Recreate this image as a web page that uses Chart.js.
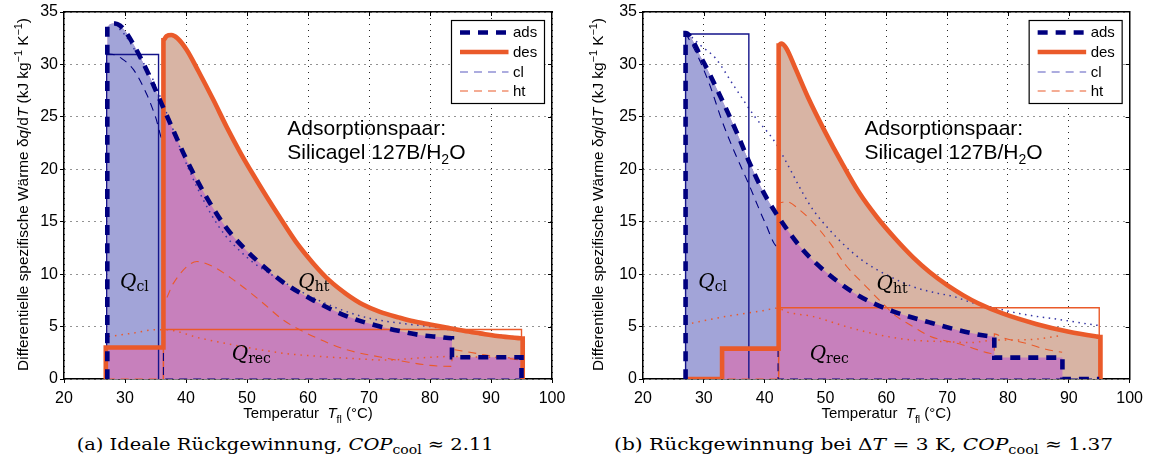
<!DOCTYPE html>
<html><head><meta charset="utf-8">
<script src="https://cdn.jsdelivr.net/npm/chart.js@4.4.0/dist/chart.umd.min.js"></script>
<style>
html,body{margin:0;padding:0;background:#fff;width:1149px;height:464px;overflow:hidden;position:relative;}
#wrapA{position:absolute;left:0;top:0;width:575px;height:425px;}
#wrapB{position:absolute;left:575px;top:0;width:574px;height:425px;}
.cap{position:absolute;top:434px;left:0;font-family:'DejaVu Serif','Liberation Serif',serif;font-size:17px;line-height:20px;white-space:nowrap;transform-origin:50% 50%;color:#000;}
.cap sub{font-size:0.72em;vertical-align:-0.32em;line-height:0;}
</style></head><body>
<div id="wrapA"><canvas id="cA" width="575" height="425"></canvas></div>
<div id="wrapB"><canvas id="cB" width="574" height="425"></canvas></div>
<div class="cap" id="capA">(a) Ideale Rückgewinnung, <i>COP</i><sub>cool</sub> ≈ 2.11</div>
<div class="cap" id="capB">(b) Rückgewinnung bei Δ<i>T</i> = 3 K, <i>COP</i><sub>cool</sub> ≈ 1.37</div>
<script>
// ---------------- data ----------------
const xTickLabels = ['20','30','40','50','60','70','80','90','100'];
const yTickLabels = ['0','5','10','15','20','25','30','35'];
const legendLabels = ['ads','des','cl','ht'];

// panel (a) : ideale Rückgewinnung
const adsA = [[27.1,0],[27.1,33.6],[27.6,33.85],[28.4,33.9],[29.2,33.7],[30,33.2],[31.4,31.9],[33.6,29.4],[35.5,26.9],[37.1,24.8],[40.1,20.9],[43.4,17.3],[46.5,14.5],[50,12.2],[53.2,10.5],[56,9.2],[60.9,7.5],[66.3,6.0],[71.8,5.0],[75.6,4.5],[78.3,4.2],[81.6,4.0],[83.6,3.88],[83.6,2.07],[95,2.07],[95,0]];
const desA = [[26.85,0],[26.85,3],[36.3,3],[36.3,32.3],[36.8,32.7],[37.6,32.8],[38.6,32.5],[40.1,31.4],[42,29.4],[44.5,26.6],[46.7,24.0],[48.9,21.6],[51,19.5],[53.2,17.4],[55.5,15.3],[58,13.1],[60.9,11.0],[63.5,9.4],[66.3,8.1],[69,7.1],[71.8,6.4],[75,5.85],[77.3,5.5],[80,5.2],[82.7,4.9],[85.5,4.6],[88.2,4.35],[91,4.1],[94.5,3.9],[95.2,3.85],[95.2,0]];
const clA = [[27,31],[28.1,30.95],[29.6,30.5],[31.4,29.5],[33.6,27.1],[35,25.0],[36.3,22.7],[36.3,0],[95,0]];
const htA = [[27,0],[36.3,0],[36.3,7.4],[37.9,9.1],[40.1,10.7],[41.8,11.2],[44.5,10.7],[47.8,9.45],[52.1,7.5],[56,5.6],[60,4.3],[66.3,2.8],[71.8,2.1],[76.5,1.6],[80,1.3],[83.6,1.2],[83.6,2.8],[86,2.6],[89,2.3],[93,1.95],[95,1.8]];
const rectClA = [[27,0],[27,30.95],[35.5,30.95],[35.5,0]];
const rectHtA = [[36.3,0],[36.3,4.72],[95,4.72],[95,0]];
const dotClA = [[28.4,33.8],[30,32.8],[32,31],[34.3,28.9],[36.8,25.4],[40.6,19.8],[45.3,14.6],[50,11.6],[55,9.6],[60,8.0],[65,6.7],[70,5.8],[75.4,5.3],[80,5.0],[85.5,4.5],[91,4.2],[95,3.95]];
const dotHtA = [[27.3,4.05],[31,4.35],[35.2,4.7],[36.6,4.7],[42.3,3.9],[47.8,3.25],[56,2.45],[62,2.15],[66,2.0],[73.4,1.8],[75.4,1.88],[80,2.07],[83.6,2.15],[88,2.1],[95,2.0]];

// panel (b) : Rückgewinnung bei dT = 3 K
const adsB = [[27,0],[27,33.0],[29.7,30.5],[33,26.6],[35.5,23.4],[37.3,20.9],[40,17.6],[42.8,15.0],[46.3,12.3],[50.7,9.9],[55.6,7.9],[61.1,6.45],[67.1,5.4],[73.7,4.4],[76.7,4.1],[77.75,4.05],[77.75,2.04],[88.95,2.04],[88.95,0],[95,0]];
const desB = [[27,0],[33,0],[33,2.9],[42.3,2.9],[42.3,31.8],[42.7,32.0],[43.5,31.6],[45,29.7],[47.1,26.9],[50,23.5],[52.6,20.7],[55.5,17.8],[58.5,15.4],[61.6,13.3],[64.4,11.6],[67.1,10.2],[70,8.95],[72.6,8.0],[75,7.25],[79.1,6.25],[84.6,5.25],[90,4.5],[94.7,4.04],[95.2,4.0],[95.2,0]];
const clB = [[27,33],[29,30.8],[31,28.0],[33,24.6],[35,21.7],[37.3,18.7],[40,15.0],[42.2,12.6],[42.2,0],[95,0]];
const htB = [[27,0],[42.3,0],[42.3,16.8],[43.6,16.9],[45.8,16.1],[48,14.9],[50.7,13.0],[53.4,10.8],[56.2,9.1],[58.9,7.5],[61.6,6.0],[64.4,5.0],[67.1,4.1],[72.6,3.25],[77,2.45],[77.75,2.4],[77.75,4.3],[79.4,3.9],[83,3.4],[86.2,2.84],[88.9,2.55]];
const rectClB = [[27,0],[27,32.9],[37.4,32.9],[37.4,0]];
const rectHtB = [[42.3,0],[42.3,6.8],[95,6.8],[95,0]];
const dotClB = [[27.3,33],[29.5,31.8],[31.9,30.6],[35,27.9],[38.4,25.0],[41.7,22.6],[44,20.2],[46.3,17.7],[48,16.1],[50.7,14.2],[53.4,12.6],[56.7,11.05],[60.5,9.8],[64.4,8.8],[68.2,8.2],[70.9,7.9],[74,7.3],[77,6.9],[79.1,6.6],[81.6,6.27],[83.8,6.05],[88.1,5.7],[94.2,5.16],[95,5.1]];
const dotHtB = [[27,5.2],[33.5,5.95],[39.5,6.5],[42.2,6.75],[43.6,6.4],[48,5.95],[53.4,5.0],[58.9,4.2],[64.4,3.7],[69.8,3.56],[73.7,3.47],[78,3.72],[81.3,3.72],[84.6,3.8],[87.6,4.04],[89,4.2]];

// ---------------- styles ----------------
const SANS = "'Liberation Sans', Arial, Helvetica, sans-serif";
const SERIF = "'DejaVu Serif','Liberation Serif',serif";
const NAVY = '#00007f';
const ORANGE = '#ea5a2a';
const BLUE_FILL = '#a2a4d8';
const TAN_FILL = '#d8b4a4';
const PINK_FILL = '#c780bc';

function mkDatasets(ads, des, cl, ht, rcl, rht, dcl, dht) {
  const base = {pointRadius:0, pointHoverRadius:0, fill:false};
  return [
    Object.assign({}, base, {label:legendLabels[0], legend:true, data:ads, borderColor:NAVY, borderWidth:4.6, borderDash:[10,8],
      cubicInterpolationMode:'monotone', fill:{target:1, above:BLUE_FILL, below:TAN_FILL}}),
    Object.assign({}, base, {label:legendLabels[1], legend:true, data:des, borderColor:ORANGE, borderWidth:4.6, cubicInterpolationMode:'monotone'}),
    Object.assign({}, base, {label:legendLabels[2], legend:true, data:cl, borderColor:NAVY, borderWidth:1.1, borderDash:[8,6], cubicInterpolationMode:'monotone', legendColor:'#5a5ac0'}),
    Object.assign({}, base, {label:legendLabels[3], legend:true, data:ht, borderColor:ORANGE, borderWidth:1.1, borderDash:[8,6], cubicInterpolationMode:'monotone'}),
    Object.assign({}, base, {label:'cl-rect', data:rcl, borderColor:'#14148a', borderWidth:1.4}),
    Object.assign({}, base, {label:'ht-rect', data:rht, borderColor:ORANGE, borderWidth:1.4}),
    Object.assign({}, base, {label:'ads-eq', data:dcl, borderColor:'#3535a5', borderWidth:1.5, borderDash:[1.5,4.5], cubicInterpolationMode:'monotone'}),
    Object.assign({}, base, {label:'des-eq', data:dht, borderColor:ORANGE, borderWidth:1.5, borderDash:[1.5,5], cubicInterpolationMode:'monotone'}),
    Object.assign({}, base, {label:'rec-a', data:ads, borderWidth:0, borderColor:'rgba(0,0,0,0)', cubicInterpolationMode:'monotone', fill:'origin', backgroundColor:PINK_FILL}),
    Object.assign({}, base, {label:'rec-d', data:des, borderWidth:0, borderColor:'rgba(0,0,0,0)', cubicInterpolationMode:'monotone', fill:'origin', backgroundColor:PINK_FILL})
  ];
}

function rich(ctx, parts, x, y, align) {
  let w = 0;
  for (const p of parts) { ctx.font = p.f; p.w = ctx.measureText(p.t).width; w += p.w; }
  let cx = align === 'center' ? x - w / 2 : x;
  for (const p of parts) { ctx.font = p.f; ctx.fillText(p.t, cx, y + (p.dy || 0)); cx += p.w; }
  return w;
}

const decoPlugin = {
  id: 'deco',
  afterDraw(chart, args, o) {
    const {ctx, chartArea: ca, scales: {x, y}} = chart;
    ctx.save();
    // inward ticks on top and right
    ctx.strokeStyle = '#000'; ctx.lineWidth = 1;
    ctx.beginPath();
    for (let v = 30; v <= 90; v += 10) { const px = Math.round(x.getPixelForValue(v)) + 0.5; ctx.moveTo(px, ca.top); ctx.lineTo(px, ca.top + 4); }
    for (let v = 5; v <= 30; v += 5) { const py = Math.round(y.getPixelForValue(v)) + 0.5; ctx.moveTo(ca.right, py); ctx.lineTo(ca.right - 4, py); }
    ctx.stroke();
    ctx.fillStyle = '#000';
    ctx.textBaseline = 'alphabetic';
    // Q labels
    const QI = 'italic 20px ' + SERIF, QS = '14px ' + SERIF;
    for (const q of o.q) {
      rich(ctx, [{t:'Q', f:QI}, {t:q.s, f:QS, dy:3}], x.getPixelForValue(q.x), y.getPixelForValue(q.y), 'left');
    }
    // pair text
    const PF = '21px ' + SANS, PS = '14px ' + SANS;
    const tx = x.getPixelForValue(o.pairX);
    rich(ctx, [{t:'Adsorptionspaar:', f:PF}], tx, y.getPixelForValue(23.3), 'left');
    rich(ctx, [{t:'Silicagel 127B/H', f:PF}, {t:'2', f:PS, dy:5}, {t:'O', f:PF}], tx, y.getPixelForValue(21.0), 'left');
    // legend box
    const bw = 93, bh = 83;
    const bx = ca.right - 7.5 - bw, by = ca.top + 8.5;
    ctx.fillStyle = '#fff'; ctx.fillRect(bx, by, bw, bh);
    ctx.strokeStyle = '#000'; ctx.lineWidth = 1.2; ctx.strokeRect(bx, by, bw, bh);
    const rows = [12, 31.5, 51.5, 70.5];
    const dsets = chart.data.datasets.filter(d => d.legend);
    ctx.font = '15px ' + SANS; ctx.textBaseline = 'middle';
    dsets.forEach((d, i) => {
      const ly = by + rows[i];
      ctx.save();
      ctx.strokeStyle = d.legendColor || d.borderColor; ctx.lineWidth = d.borderWidth;
      ctx.setLineDash(d.borderDash || []);
      ctx.beginPath(); ctx.moveTo(bx + 8.5, ly); ctx.lineTo(bx + 57, ly); ctx.stroke();
      ctx.restore();
      ctx.fillStyle = '#000'; ctx.fillText(d.label, bx + 61.5, ly + 0.5);
    });
    // axis titles
    ctx.textBaseline = 'alphabetic';
    const N = '15px ' + SANS, I = 'italic 15px ' + SANS, SM = '10.5px ' + SANS;
    rich(ctx, [{t:'Temperatur  ', f:N}, {t:'T', f:I}, {t:'fl', f:SM, dy:5}, {t:' (°C)', f:N}], (ca.left + ca.right) / 2, 418, 'center');
    const NY = '15.4px ' + SANS, IY = 'italic 15.4px ' + SANS, SY = '10.8px ' + SANS;
    ctx.save();
    ctx.translate(o.yTitleX, (ca.top + ca.bottom) / 2 - 1);
    ctx.rotate(-Math.PI / 2);
    rich(ctx, [{t:'Differentielle spezifische Wärme δ', f:NY}, {t:'q', f:IY}, {t:'/d', f:NY}, {t:'T', f:IY}, {t:' (kJ kg', f:NY}, {t:'−1', f:SY, dy:-6}, {t:' K', f:NY}, {t:'−1', f:SY, dy:-6}, {t:')', f:NY}], 0, 0, 'center');
    ctx.restore();
    ctx.restore();
  }
};

function mkOptions(leftW, rightW, deco) {
  const gridCfg = {color:'rgba(0,0,0,0.85)', lineWidth:1, drawTicks:true, tickLength:4, tickColor:'#000', tickWidth:1};
  const borderCfg = {display:true, color:'#000', width:1.5, dash:[1,5]};
  const tickFont = {family:SANS, size:16};
  return {
    responsive:false, animation:false, devicePixelRatio:1, events:[],
    layout:{padding:0},
    plugins:{legend:{display:false}, tooltip:{enabled:false}, filler:{drawTime:'beforeDatasetsDraw', propagate:false}, deco:deco},
    scales:{
      x:{type:'linear', position:'bottom', min:20, max:100,
        ticks:{stepSize:10, font:tickFont, color:'#000', padding:6, maxRotation:0, autoSkip:false,
          callback:(v) => { const i = xTickLabels.indexOf(String(v)); return i >= 0 ? xTickLabels[i] : ''; }},
        grid:gridCfg, border:borderCfg, afterFit(s){ s.height = 46; }},
      y:{type:'linear', position:'left', min:0, max:35,
        ticks:{stepSize:5, font:tickFont, color:'#000', padding:2,
          callback:(v) => { const i = yTickLabels.indexOf(String(v)); return i >= 0 ? yTickLabels[i] : ''; }},
        grid:gridCfg, border:borderCfg, afterFit(s){ s.width = leftW; }},
      x2:{type:'linear', position:'top', min:20, max:100, ticks:{display:false}, grid:{display:false},
        border:{display:true, color:'#000', width:1.5}, afterFit(s){ s.height = 12; }},
      y2:{type:'linear', position:'right', min:0, max:35, ticks:{display:false}, grid:{display:false},
        border:{display:true, color:'#000', width:1.5}, afterFit(s){ s.width = rightW; }}
    }
  };
}

new Chart(document.getElementById('cA'), {
  type:'line',
  data:{datasets:mkDatasets(adsA, desA, clA, htA, rectClA, rectHtA, dotClA, dotHtA)},
  options:mkOptions(64, 23, {q:[{s:'cl', x:29.2, y:8.7}, {s:'rec', x:47.5, y:1.8}, {s:'ht', x:58.4, y:8.7}], pairX:56.6, yTitleX:27.5}),
  plugins:[decoPlugin]
});
new Chart(document.getElementById('cB'), {
  type:'line',
  data:{datasets:mkDatasets(adsB, desB, clB, htB, rectClB, rectHtB, dotClB, dotHtB)},
  options:mkOptions(68, 18, {q:[{s:'cl', x:29.1, y:8.7}, {s:'rec', x:47.4, y:1.8}, {s:'ht', x:58.4, y:8.5}], pairX:56.4, yTitleX:28}),
  plugins:[decoPlugin]
});

function fitCap(id, cx, width) {
  const el = document.getElementById(id);
  const w = el.getBoundingClientRect().width;
  el.style.left = (cx - w / 2) + 'px';
  el.style.transform = 'scaleX(' + (width / w).toFixed(4) + ')';
}
fitCap('capA', 285, 417);
fitCap('capB', 864, 499);
</script>
</body></html>
